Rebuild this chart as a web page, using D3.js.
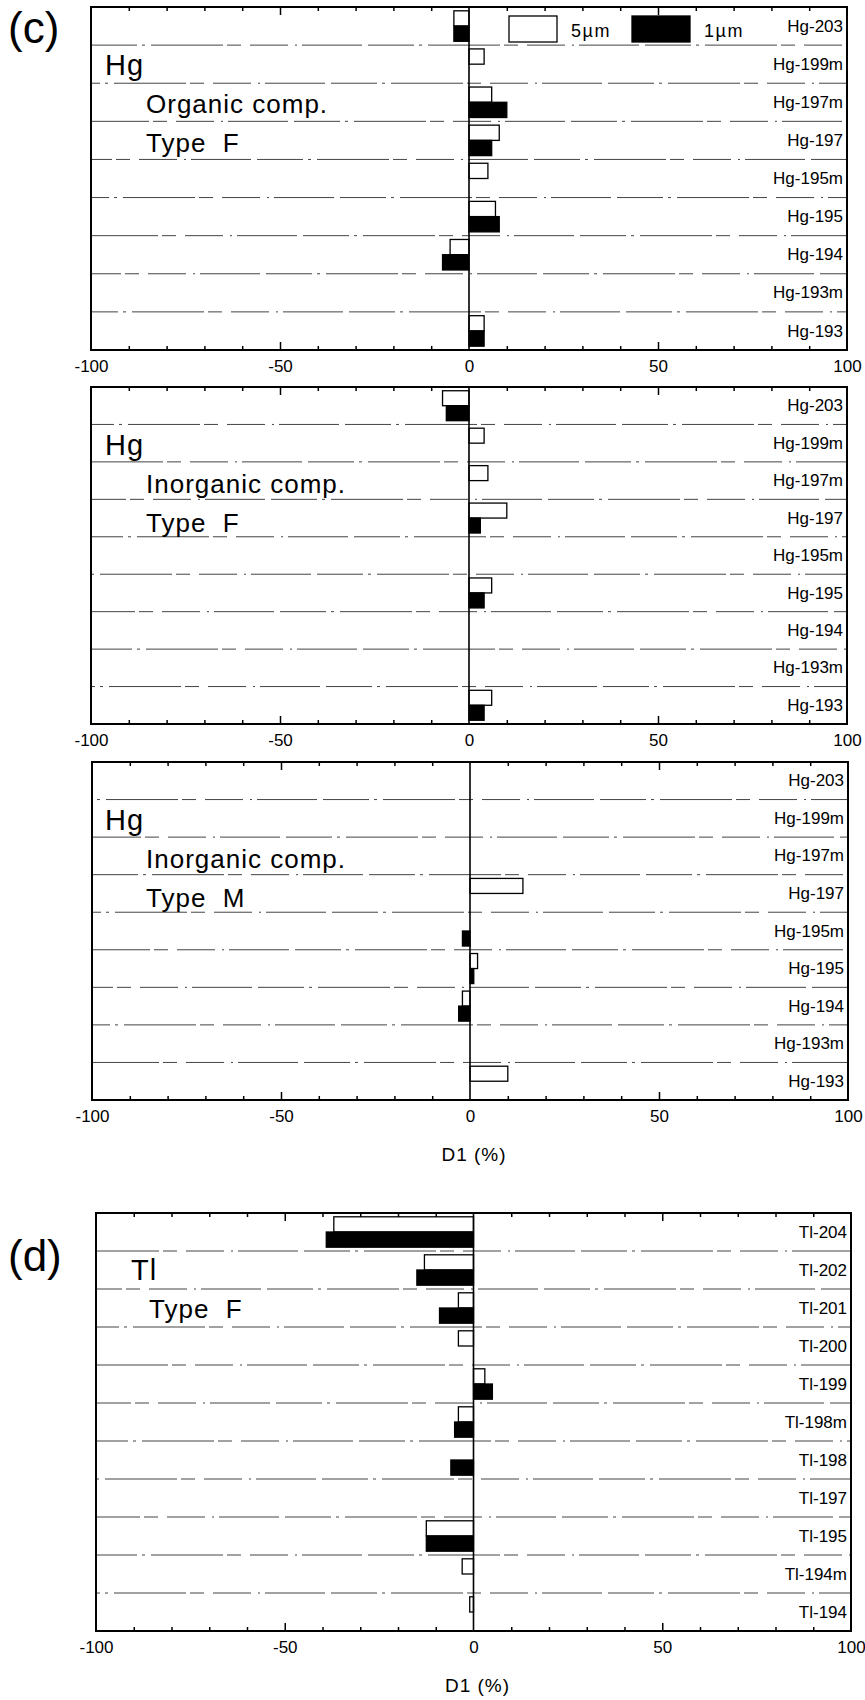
<!DOCTYPE html>
<html>
<head>
<meta charset="utf-8">
<script src="https://cdn.jsdelivr.net/npm/d3@7"></script>
<style>
  html, body { margin: 0; padding: 0; background: #fff; }
  svg { display: block; }
  text { font-family: "Liberation Sans", Arial, Helvetica, sans-serif; fill: #000; }
</style>
</head>
<body>
<svg id="chart" width="865" height="1700"></svg>
<script>
// ---------------- DATA ----------------
const seriesNames = ["5µm", "1µm"];
const hgCategories = ["Hg-203", "Hg-199m", "Hg-197m", "Hg-197", "Hg-195m", "Hg-195", "Hg-194", "Hg-193m", "Hg-193"];
const tlCategories = ["Tl-204", "Tl-202", "Tl-201", "Tl-200", "Tl-199", "Tl-198m", "Tl-198", "Tl-197", "Tl-195", "Tl-194m", "Tl-194"];

const hgOrganicF_5um   = [-4, 4, 6, 8, 5, 7, -5, 0, 4];
const hgOrganicF_1um   = [-4, 0, 10, 6, 0, 8, -7, 0, 4];
const hgInorganicF_5um = [-7, 4, 5, 10, 0, 6, 0, 0, 6];
const hgInorganicF_1um = [-6, 0, 0, 3, 0, 4, 0, 0, 4];
const hgInorganicM_5um = [0, 0, 0, 14, 0, 2, -2, 0, 10];
const hgInorganicM_1um = [0, 0, 0, 0, -2, 1, -3, 0, 0];
const tlF_5um          = [-37, -13, -4, -4, 3, -4, 0, 0, -12.5, -3, -1];
const tlF_1um          = [-39, -15, -9, 0, 5, -5, -6, 0, -12.5, 0, 0];

const xDomain = [-100, 100];
const xTickLabels = [-100, -50, 0, 50, 100];
const xTickMarks = d3.range(-100, 101, 10);
const axisTitle = "D1 (%)";

const panelTitles = [
  ["Hg", "Organic comp.", "Type  F"],
  ["Hg", "Inorganic comp.", "Type  F"],
  ["Hg", "Inorganic comp.", "Type  M"],
  ["Tl", "Type  F"]
];
const panelLetters = ["(c)", null, null, "(d)"];

// ---------------- LAYOUT ----------------
const panels = [
  { cats: hgCategories, s5: hgOrganicF_5um,   s1: hgOrganicF_1um,   x0: 91, x1: 847, y0: 7,    y1: 350,  legend: true,  title: panelTitles[0], letter: panelLetters[0], xt: false },
  { cats: hgCategories, s5: hgInorganicF_5um, s1: hgInorganicF_1um, x0: 91, x1: 847, y0: 387,  y1: 724,  legend: false, title: panelTitles[1], letter: panelLetters[1], xt: false },
  { cats: hgCategories, s5: hgInorganicM_5um, s1: hgInorganicM_1um, x0: 92, x1: 848, y0: 762,  y1: 1100, legend: false, title: panelTitles[2], letter: panelLetters[2], xt: true },
  { cats: tlCategories, s5: tlF_5um,          s1: tlF_1um,          x0: 96, x1: 851, y0: 1213, y1: 1631, legend: false, title: panelTitles[3], letter: panelLetters[3], xt: true }
];

const svg = d3.select("#chart");
const gridDash = "46,5,3,6,72,4,14,9,38,7,2,5,60,6";

panels.forEach((p, pi) => {
  const g = svg.append("g");
  const x = d3.scaleLinear().domain(xDomain).range([p.x0, p.x1]);
  const y = d3.scaleBand().domain(p.cats).range([p.y0, p.y1]).paddingInner(0.2).paddingOuter(0.1);
  const ySub = d3.scaleBand().domain(seriesNames).range([0, y.bandwidth()]);
  const step = y.step();

  // grid separators between rows
  g.append("g").selectAll("line")
    .data(p.cats.slice(1))
    .join("line")
    .attr("x1", p.x0).attr("x2", p.x1)
    .attr("y1", d => y(d) - step * 0.1)
    .attr("y2", d => y(d) - step * 0.1)
    .attr("stroke", "#444")
    .attr("stroke-width", 1)
    .attr("stroke-dasharray", gridDash)
    .attr("stroke-dashoffset", (d, i) => (i * 37 + pi * 23) % 120);

  // bars
  const rows = p.cats.map((c, i) => ({ c, v5: p.s5[i], v1: p.s1[i] }));
  const barData = [];
  rows.forEach(r => {
    if (r.v5 !== 0) barData.push({ c: r.c, s: seriesNames[0], v: r.v5 });
    if (r.v1 !== 0) barData.push({ c: r.c, s: seriesNames[1], v: r.v1 });
  });
  g.append("g").selectAll("rect")
    .data(barData)
    .join("rect")
    .attr("x", d => Math.min(x(0), x(d.v)))
    .attr("width", d => Math.abs(x(d.v) - x(0)))
    .attr("y", d => y(d.c) + ySub(d.s))
    .attr("height", ySub.bandwidth())
    .attr("fill", d => d.s === seriesNames[0] ? "#fff" : "#000")
    .attr("stroke", "#000")
    .attr("stroke-width", 1.3);

  // zero line
  g.append("line")
    .attr("x1", x(0)).attr("x2", x(0))
    .attr("y1", p.y0).attr("y2", p.y1)
    .attr("stroke", "#000").attr("stroke-width", 1.6);

  // ticks inward (top and bottom)
  const tickLen = v => (Math.abs(v) === 50 ? 8 : 4);
  const minorTicks = xTickMarks.filter(v => Math.abs(v) !== 100 && v !== 0);
  const topAxis = d3.axisBottom(x).tickValues(minorTicks).tickSize(0).tickFormat("");
  const tg = g.append("g").attr("transform", `translate(0,${p.y0})`).call(topAxis);
  tg.select(".domain").remove();
  tg.selectAll(".tick line").attr("y2", d => tickLen(d)).attr("stroke", "#000").attr("stroke-width", 1.5);
  const botAxis = d3.axisTop(x).tickValues(minorTicks).tickSize(0).tickFormat("");
  const bg = g.append("g").attr("transform", `translate(0,${p.y1})`).call(botAxis);
  bg.select(".domain").remove();
  bg.selectAll(".tick line").attr("y2", d => -tickLen(d)).attr("stroke", "#000").attr("stroke-width", 1.5);

  // tick labels (plain hyphen minus, as in the original)
  const labAxis = d3.axisBottom(x).tickValues(xTickLabels).tickSize(0).tickPadding(0).tickFormat(d => String(d));
  const lg = g.append("g").attr("transform", `translate(0,${p.y1 + 10})`).call(labAxis);
  lg.select(".domain").remove();
  lg.selectAll(".tick text")
    .attr("font-size", 17)
    .attr("font-family", "'Liberation Sans', Arial, sans-serif")
    .attr("fill", "#000")
    .attr("dy", "0.71em");

  // frame
  g.append("rect")
    .attr("x", p.x0).attr("y", p.y0)
    .attr("width", p.x1 - p.x0).attr("height", p.y1 - p.y0)
    .attr("fill", "none").attr("stroke", "#000").attr("stroke-width", 2);

  // category labels
  g.append("g").selectAll("text")
    .data(p.cats)
    .join("text")
    .attr("x", p.x1 - 4)
    .attr("y", d => y(d) + y.bandwidth() / 2)
    .attr("dy", "0.33em")
    .attr("text-anchor", "end")
    .attr("font-size", 17)
    .text(d => d);

  // panel titles
  const offs = p.title.length === 3 ? [68, 106, 145] : [67, 105];
  const xs = p.title.length === 3 ? [105, 146, 146] : [131, 149];
  const sizes = p.title.length === 3 ? [29, 26, 26] : [29, 26];
  p.title.forEach((t, i) => {
    g.append("text")
      .attr("x", xs[i]).attr("y", p.y0 + offs[i])
      .attr("font-size", sizes[i])
      .attr("letter-spacing", 1)
      .style("white-space", "pre")
      .text(t);
  });

  // panel letter
  if (p.letter) {
    g.append("text")
      .attr("x", 8).attr("y", p.y0 + (pi === 0 ? 36 : 58))
      .attr("font-size", 44)
      .text(p.letter);
  }

  // axis title
  if (p.xt) {
    g.append("text")
      .attr("x", x(0) + 4).attr("y", p.y1 + 61)
      .attr("text-anchor", "middle")
      .attr("font-size", 19)
      .attr("letter-spacing", 1)
      .style("white-space", "pre")
      .text(axisTitle);
  }

  // legend
  if (p.legend) {
    const boxX = [509, 632];
    const boxW = [48, 58];
    const lgd = g.append("g");
    seriesNames.forEach((s, i) => {
      lgd.append("rect")
        .attr("x", boxX[i]).attr("y", p.y0 + 9)
        .attr("width", boxW[i]).attr("height", 26)
        .attr("fill", i === 0 ? "#fff" : "#000")
        .attr("stroke", "#000").attr("stroke-width", 1.3);
      lgd.append("text")
        .attr("x", boxX[i] + boxW[i] + 14).attr("y", p.y0 + 30)
        .attr("font-size", 18)
        .attr("letter-spacing", 1.5)
        .text(s);
    });
  }
});
</script>
</body>
</html>
